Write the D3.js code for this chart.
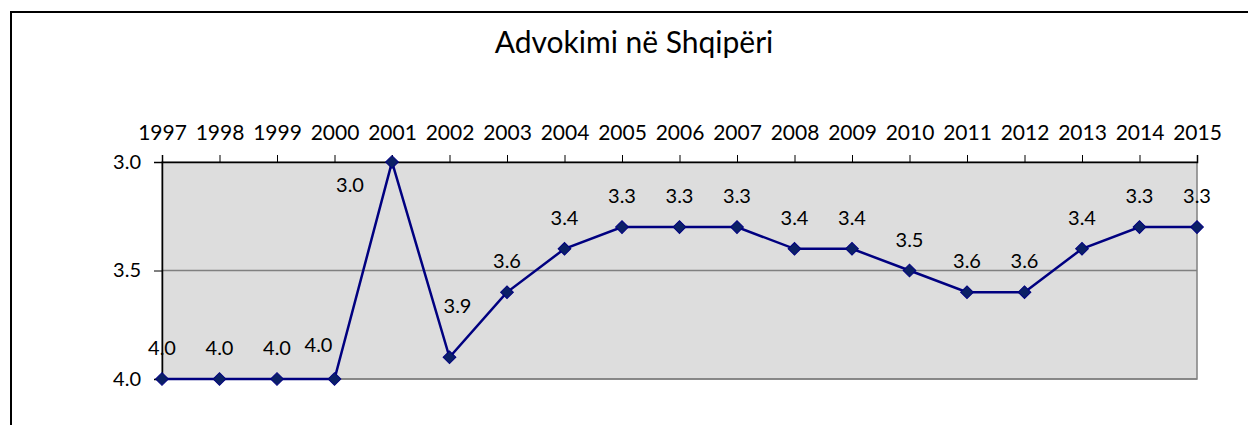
<!DOCTYPE html>
<html lang="sq">
<head>
<meta charset="UTF-8">
<title>Advokimi në Shqipëri</title>
<style>
    body { margin: 0; background: #fff; }
    svg text { font-family: Lato, "Open Sans", sans-serif; fill: #000; }
</style>
</head>
<body>
<svg id="chart"></svg>
<script src="https://d3js.org/d3.v7.min.js"></script>
<script>
    // data
    var years = ["1997", "1998", "1999", "2000", "2001", "2002", "2003", "2004", "2005", "2006",
        "2007", "2008", "2009", "2010", "2011", "2012", "2013", "2014", "2015"];
    var scores = [4.0, 4.0, 4.0, 4.0, 3.0, 3.9, 3.6, 3.4, 3.3, 3.3,
        3.3, 3.4, 3.4, 3.5, 3.6, 3.6, 3.4, 3.3, 3.3];
    var yTicks = [3.0, 3.5, 4.0];
    var title = "Advokimi në Shqipëri";

    // label nudges where the labels were moved off the default spot
    var nudge = { "2000": [-16, -3], "2001": [-42, 54], "2002": [8, -20] };

    var W = 1248, H = 425;
    var plotL = 162, plotR = 1197, plotT = 162, plotB = 379;

    var svg = d3.select("#chart").attr("width", W).attr("height", H);

    // outer frame, runs off the right and bottom edges
    svg.append("rect")
        .attr("x", 11).attr("y", 12)
        .attr("width", 1400).attr("height", 600)
        .attr("fill", "none").attr("stroke", "#000").attr("stroke-width", 2);

    svg.append("text")
        .attr("x", 634).attr("y", 53)
        .attr("text-anchor", "middle")
        .attr("font-size", 30)
        .text(title);

    var x = d3.scalePoint().domain(years).range([plotL, plotR]).padding(0);
    var y = d3.scaleLinear().domain([3.0, 4.0]).range([plotT, plotB]);

    // plot area
    svg.append("rect")
        .attr("x", plotL).attr("y", plotT)
        .attr("width", plotR - plotL).attr("height", plotB - plotT)
        .attr("fill", "#dddddd")
        .attr("stroke", "#808080").attr("stroke-width", 1.5);

    svg.append("g").selectAll("line")
        .data(yTicks.filter(function (d) { return d > 3.0; }))
        .enter().append("line")
        .attr("x1", plotL).attr("x2", plotR)
        .attr("y1", function (d) { return y(d); })
        .attr("y2", function (d) { return y(d); })
        .attr("stroke", "#808080").attr("stroke-width", 1.5);

    // top category axis
    var xAxis = svg.append("g")
        .attr("transform", "translate(0," + plotT + ")")
        .call(d3.axisTop(x).tickSize(7).tickPadding(15));
    xAxis.select(".domain").attr("stroke", "#000").attr("stroke-width", 1.5);
    xAxis.selectAll(".tick line").attr("stroke", "#000");
    xAxis.selectAll("text").attr("font-size", 21).attr("fill", "#000")
        .attr("font-family", "Lato, sans-serif");

    var yAxis = svg.append("g")
        .attr("transform", "translate(" + plotL + ",0)")
        .call(d3.axisLeft(y).tickValues(yTicks).tickFormat(d3.format(".1f")).tickSize(8).tickPadding(13));
    yAxis.select(".domain").attr("stroke", "#000").attr("stroke-width", 1.5);
    yAxis.selectAll(".tick line").attr("stroke", "#000");
    yAxis.selectAll("text").attr("font-size", 20).attr("fill", "#000")
        .attr("font-family", "Lato, sans-serif");

    var line = d3.line()
        .x(function (d, i) { return x(years[i]); })
        .y(function (d) { return y(d); });

    svg.append("path")
        .datum(scores)
        .attr("d", line)
        .attr("fill", "none")
        .attr("stroke", "#000080")
        .attr("stroke-width", 2.5);

    svg.append("g").selectAll("path")
        .data(scores)
        .enter().append("path")
        .attr("d", d3.symbol().type(d3.symbolSquare).size(81))
        .attr("transform", function (d, i) {
            return "translate(" + x(years[i]) + "," + y(d) + ") rotate(45)";
        })
        .attr("fill", "#0b2066")
        .attr("stroke", "#000080")
        .attr("stroke-width", 1);

    svg.append("g").selectAll("text")
        .data(scores)
        .enter().append("text")
        .attr("x", function (d, i) {
            var n = nudge[years[i]];
            return x(years[i]) + (n ? n[0] : 0);
        })
        .attr("y", function (d, i) {
            var n = nudge[years[i]];
            return y(d) - 24 + (n ? n[1] : 0);
        })
        .attr("text-anchor", "middle")
        .attr("font-size", 20)
        .text(function (d) { return d3.format(".1f")(d); });
</script>
</body>
</html>
